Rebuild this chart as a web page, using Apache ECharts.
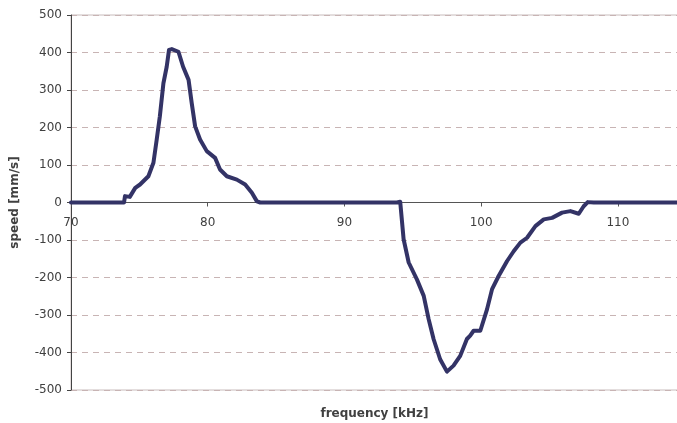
<!DOCTYPE html>
<html>
<head>
<meta charset="utf-8">
<script src="https://cdn.jsdelivr.net/npm/echarts@6/dist/echarts.min.js"></script>
<style>html,body{margin:0;padding:0;background:#fff}#c{width:677px;height:423px}</style>
</head>
<body>
<div id="c"></div>
<script>
var frequency = [70, 73.88, 73.95, 74.3, 74.7, 75.05, 75.66, 76.03, 76.27, 76.5, 76.76, 77.0, 77.17, 77.37, 77.86, 78.2, 78.6, 78.83, 79.08, 79.44, 79.93, 80.54, 80.9, 81.4, 82.13, 82.74, 83.23, 83.6, 83.84,
  93.84, 94.08, 94.33, 94.7, 95.3, 95.8, 96.16, 96.52, 97.0, 97.5, 97.98, 98.47, 98.96, 99.2, 99.45, 99.94, 100.43, 100.8, 101.28, 101.9, 102.38, 102.87, 103.36, 103.97, 104.58, 105.19, 105.92, 106.53, 107.14, 107.5, 107.8, 108.24, 114.4];
var speed = [0, 0, 17, 15, 39, 48, 70, 106, 168, 230, 318, 362, 407, 409, 402, 362, 327, 265, 203, 168, 137, 119, 88, 70, 61, 48, 26, 3, 0,
  0, 2, -98, -160, -205, -249, -311, -364, -418, -451, -435, -409, -364, -355, -342, -342, -285, -231, -196, -156, -130, -107, -94, -63, -45, -41, -27, -23, -30, -10, 1, 0, 0];
var xTicks = [70, 80, 90, 100, 110];
var yTicks = [-500, -400, -300, -200, -100, 0, 100, 200, 300, 400, 500];

var pts = frequency.map(function (f, i) { return [f, speed[i]]; });
var font = 'DejaVu Sans';
var gridTop = 15, gridBottom = 33, H = 423;
var zeroOffset = -(H - gridTop - gridBottom) / 2;
var chart = echarts.init(document.getElementById('c'), null, {renderer: 'canvas'});
chart.setOption({
  animation: false,
  grid: {left: 71, right: -1, top: gridTop, bottom: gridBottom, containLabel: false, outerBoundsMode: 'none',
    show: true, borderColor: '#c8bcbc', borderWidth: 1, backgroundColor: 'transparent'},
  xAxis: {
    type: 'value', min: 70, max: 114.4, interval: 10, offset: zeroOffset,
    name: 'frequency [kHz]', nameLocation: 'middle', nameGap: 205,
    nameTextStyle: {fontFamily: font, fontSize: 12, fontWeight: 'bold', color: '#404040'},
    axisLine: {onZero: false, lineStyle: {color: '#555555', width: 1}},
    axisTick: {show: true, length: 4, lineStyle: {color: '#555555'}},
    axisLabel: {margin: 14, fontFamily: font, fontSize: 12, color: '#404040',
      formatter: function (v) { return xTicks.indexOf(v) >= 0 ? String(v) : ''; }},
    splitLine: {show: false}
  },
  yAxis: {
    type: 'value', min: yTicks[0], max: yTicks[yTicks.length - 1], interval: 100,
    name: 'speed [mm/s]', nameLocation: 'middle', nameGap: 50, nameRotate: 90,
    nameTextStyle: {fontFamily: font, fontSize: 12, fontWeight: 'bold', color: '#404040'},
    axisLine: {show: true, onZero: false, lineStyle: {color: '#444444', width: 1}},
    axisTick: {show: true, length: 4, lineStyle: {color: '#444444'}},
    axisLabel: {margin: 9, fontFamily: font, fontSize: 12, color: '#404040'},
    splitLine: {show: true, lineStyle: {color: '#c8b4b4', type: [6, 5], width: 1}}
  },
  series: [{
    type: 'line', data: pts, showSymbol: false, symbol: 'none',
    lineStyle: {color: '#333366', width: 4, join: 'round', cap: 'round'},
    z: 5
  }]
});
</script>
</body>
</html>
